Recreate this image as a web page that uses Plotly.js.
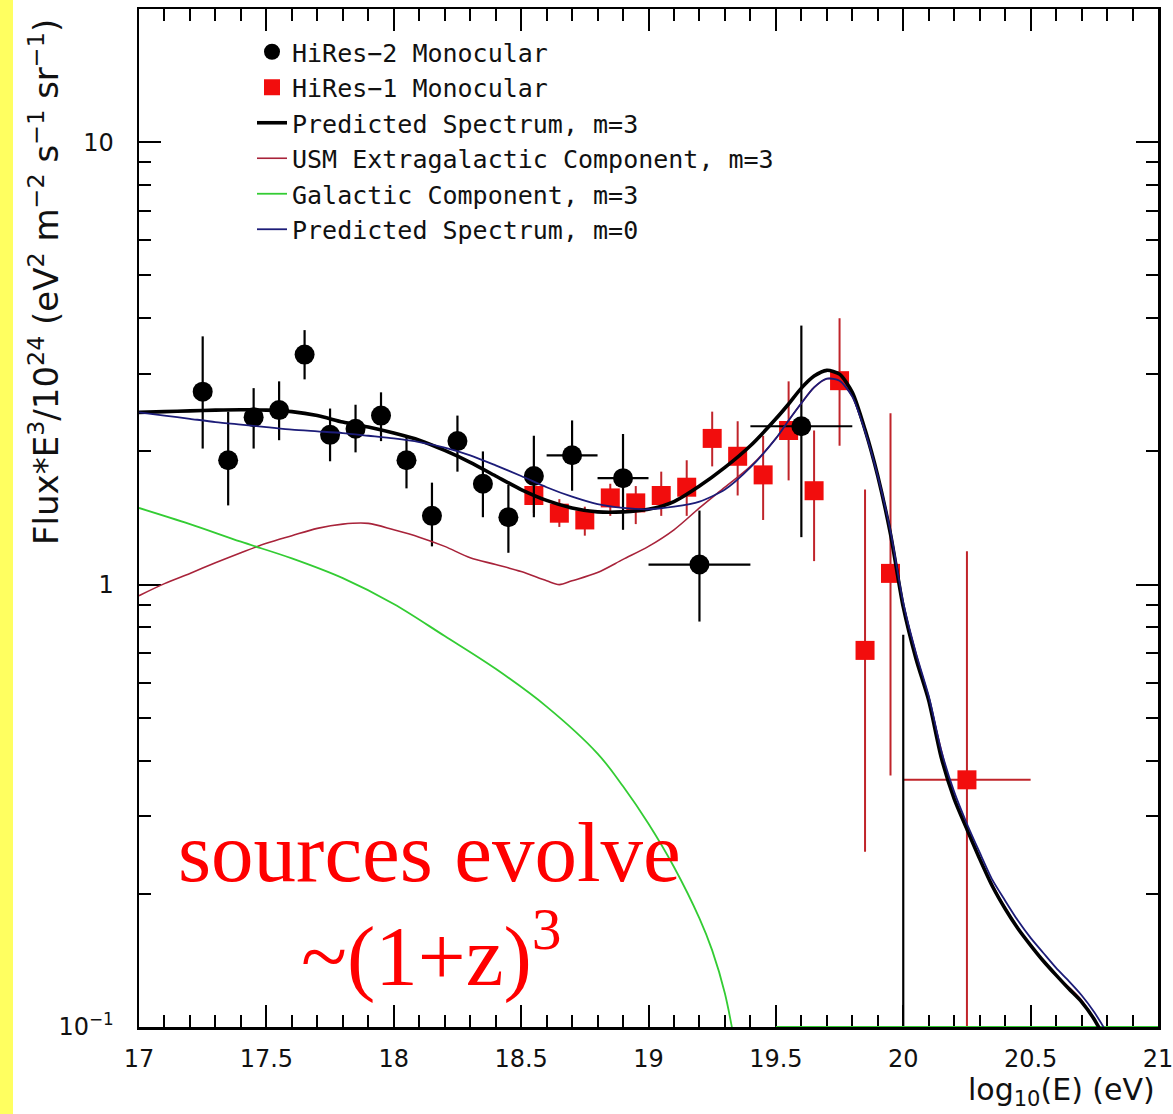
<!DOCTYPE html>
<html>
<head>
<meta charset="utf-8">
<script src="https://cdn.plot.ly/plotly-3.0.1.min.js"></script>
<style>
  html, body { margin: 0; padding: 0; background: #ffffff; }
  #chart { width: 1173px; height: 1114px; }
</style>
</head>
<body>
<div id="chart"></div>
<script>
// HiRes-2 monocular spectrum: log10(E), flux*E^3/1e24, upper/lower error bounds, half bin width
const hires2X  = [17.25, 17.35, 17.45, 17.55, 17.65, 17.75, 17.85, 17.95, 18.05, 18.15, 18.25, 18.35, 18.45, 18.55, 18.7, 18.9, 19.2, 19.6, 20.0];
const hires2Y  = [2.73, 1.91, 2.39, 2.48, 3.31, 2.18, 2.25, 2.41, 1.91, 1.43, 2.11, 1.69, 1.42, 1.76, 1.96, 1.74, 1.11, 2.28, 0.05];
const hires2Hi = [3.64, 2.46, 2.78, 2.88, 3.76, 2.50, 2.55, 2.72, 2.16, 1.70, 2.41, 2.00, 1.68, 2.17, 2.35, 2.19, 1.47, 3.85, 0.77];
const hires2Lo = [2.03, 1.51, 2.03, 2.12, 2.91, 1.90, 1.99, 2.11, 1.65, 1.22, 1.80, 1.42, 1.18, 1.42, 1.63, 1.33, 0.825, 1.28, 0.02];
const hires2Bin = [0, 0, 0, 0, 0, 0, 0, 0, 0, 0, 0, 0, 0, 0, 0.1, 0.1, 0.2, 0.2, 0.2];

// HiRes-1 monocular spectrum
const hires1X  = [18.55, 18.65, 18.75, 18.85, 18.95, 19.05, 19.15, 19.25, 19.35, 19.45, 19.55, 19.65, 19.75, 19.85, 19.95, 20.25];
const hires1Y  = [1.59, 1.45, 1.40, 1.57, 1.53, 1.59, 1.66, 2.14, 1.95, 1.77, 2.23, 1.63, 2.89, 0.71, 1.06, 0.362];
const hires1Hi = [1.74, 1.56, 1.50, 1.69, 1.67, 1.80, 1.91, 2.46, 2.34, 2.17, 2.88, 2.23, 4.00, 1.64, 2.44, 1.19];
const hires1Lo = [1.45, 1.35, 1.29, 1.43, 1.37, 1.43, 1.43, 1.85, 1.59, 1.40, 1.72, 1.13, 2.06, 0.249, 0.37, 0.05];
const hires1Bin = [0, 0, 0, 0, 0, 0, 0, 0, 0, 0, 0, 0, 0, 0, 0, 0.25];

// Model curves
const predM3X = [17.0, 17.1, 17.2, 17.3, 17.4, 17.5, 17.6, 17.7, 17.8, 17.9, 18.0, 18.1, 18.2, 18.3, 18.4, 18.5, 18.6, 18.7, 18.8, 18.9, 19.0, 19.1, 19.2, 19.3, 19.4, 19.5, 19.55, 19.6, 19.65, 19.7, 19.75, 19.8, 19.85, 19.9, 19.95, 20.0, 20.05, 20.1, 20.15, 20.2, 20.25, 20.3, 20.35, 20.4, 20.45, 20.5, 20.55, 20.6, 20.65, 20.7, 20.75, 20.8];
const predM3Y = [2.45, 2.46, 2.47, 2.48, 2.485, 2.48, 2.46, 2.41, 2.33, 2.27, 2.20, 2.12, 2.01, 1.89, 1.76, 1.64, 1.55, 1.49, 1.46, 1.46, 1.48, 1.54, 1.67, 1.84, 2.06, 2.37, 2.56, 2.78, 2.96, 3.05, 2.99, 2.72, 2.24, 1.76, 1.30, 0.89, 0.68, 0.547, 0.405, 0.328, 0.28, 0.24, 0.208, 0.185, 0.167, 0.153, 0.141, 0.131, 0.122, 0.114, 0.104, 0.092];

const predM0X = [17.0, 17.1, 17.2, 17.3, 17.4, 17.5, 17.6, 17.7, 17.8, 17.9, 18.0, 18.1, 18.2, 18.3, 18.4, 18.5, 18.6, 18.7, 18.8, 18.9, 19.0, 19.1, 19.2, 19.3, 19.4, 19.5, 19.55, 19.6, 19.65, 19.7, 19.75, 19.8, 19.85, 19.9, 19.95, 20.0, 20.05, 20.1, 20.15, 20.2, 20.25, 20.3, 20.35, 20.4, 20.45, 20.5, 20.55, 20.6, 20.65, 20.7, 20.75, 20.8];
const predM0Y = [2.45, 2.41, 2.37, 2.33, 2.30, 2.27, 2.24, 2.22, 2.20, 2.17, 2.14, 2.10, 2.04, 1.96, 1.86, 1.76, 1.66, 1.58, 1.52, 1.49, 1.48, 1.50, 1.54, 1.64, 1.84, 2.14, 2.35, 2.57, 2.79, 2.92, 2.89, 2.66, 2.22, 1.76, 1.32, 0.91, 0.70, 0.56, 0.42, 0.34, 0.288, 0.248, 0.215, 0.193, 0.174, 0.159, 0.147, 0.136, 0.127, 0.118, 0.108, 0.097];

const extraX = [17.0, 17.1, 17.2, 17.3, 17.4, 17.5, 17.6, 17.7, 17.8, 17.9, 18.0, 18.1, 18.2, 18.3, 18.4, 18.5, 18.6, 18.65, 18.7, 18.8, 18.9, 19.0, 19.1, 19.2, 19.3, 19.4, 19.5, 19.55, 19.6, 19.65, 19.7, 19.75, 19.8, 19.85, 19.9, 19.95, 20.0, 20.1, 20.2, 20.3, 20.4, 20.5, 20.6, 20.7, 20.8];
const extraY = [0.944, 1.005, 1.06, 1.12, 1.18, 1.24, 1.29, 1.34, 1.37, 1.375, 1.33, 1.28, 1.22, 1.15, 1.11, 1.07, 1.02, 1.0, 1.02, 1.065, 1.14, 1.22, 1.33, 1.49, 1.66, 1.85, 2.14, 2.35, 2.57, 2.79, 2.92, 2.89, 2.66, 2.22, 1.76, 1.31, 0.90, 0.55, 0.33, 0.24, 0.186, 0.153, 0.131, 0.115, 0.092];

const galacticX = [17.0, 17.2, 17.4, 17.6, 17.8, 18.0, 18.2, 18.4, 18.6, 18.8, 18.9, 19.0, 19.1, 19.2, 19.25, 19.3, 19.35, 19.4, 19.45, 19.5, 21.0];
const galacticY = [1.49, 1.37, 1.25, 1.146, 1.034, 0.904, 0.765, 0.645, 0.53, 0.415, 0.35, 0.288, 0.23, 0.176, 0.149, 0.119, 0.085, 0.06, null, 0.1, 0.1];

// Axis tick labels
const xTickVals = [17, 17.5, 18, 18.5, 19, 19.5, 20, 20.5, 21];
const xTickText = ['17', '17.5', '18', '18.5', '19', '19.5', '20', '20.5', '21'];
const yTickVals = [0.1, 1, 10];
const yTickText = ['10<sup>\u22121</sup>', '1', '10'];
const yMinorVals = [0.2, 0.3, 0.4, 0.5, 0.6, 0.7, 0.8, 0.9, 2, 3, 4, 5, 6, 7, 8, 9, 20];

const sub = (a, b) => a.map((v, i) => v - b[i]);

const FONT = 'DejaVu Sans, Liberation Sans, sans-serif';
const LEGEND_FONT = 'DejaVu Sans Mono, DejaVu Sans, monospace';

const traces = [
  {
    name: 'HiRes\u22121 Monocular', legendrank: 2,
    x: hires1X, y: hires1Y, type: 'scatter', mode: 'markers',
    marker: { symbol: 'square', size: 19, color: '#f20d0d' },
    error_y: { type: 'data', symmetric: false, array: sub(hires1Hi, hires1Y), arrayminus: sub(hires1Y, hires1Lo), color: '#c0242a', thickness: 2, width: 0 },
    error_x: { type: 'data', array: hires1Bin, color: '#c0242a', thickness: 2, width: 0 }
  },
  {
    name: 'HiRes\u22122 Monocular', legendrank: 1,
    x: hires2X, y: hires2Y, type: 'scatter', mode: 'markers',
    marker: { symbol: 'circle', size: 20, color: '#000000' },
    error_y: { type: 'data', symmetric: false, array: sub(hires2Hi, hires2Y), arrayminus: sub(hires2Y, hires2Lo), color: '#000000', thickness: 2.2, width: 0 },
    error_x: { type: 'data', array: hires2Bin, color: '#000000', thickness: 2.2, width: 0 }
  },
  {
    name: 'USM Extragalactic Component, m=3', legendrank: 4,
    x: extraX, y: extraY, type: 'scatter', mode: 'lines',
    line: { color: '#a8233a', width: 1.6, shape: 'spline', smoothing: 0.9 }
  },
  {
    name: 'Galactic Component, m=3', legendrank: 5,
    x: galacticX, y: galacticY, type: 'scatter', mode: 'lines', connectgaps: false,
    line: { color: '#33cc33', width: 1.8, shape: 'spline', smoothing: 1.0 }
  },
  {
    name: 'Predicted Spectrum, m=3', legendrank: 3,
    x: predM3X, y: predM3Y, type: 'scatter', mode: 'lines',
    line: { color: '#000000', width: 3.6, shape: 'spline', smoothing: 0.7 }
  },
  {
    name: 'Predicted Spectrum, m=0', legendrank: 6,
    x: predM0X, y: predM0Y, type: 'scatter', mode: 'lines',
    line: { color: '#1c1c78', width: 1.8, shape: 'spline', smoothing: 0.7 }
  }
];

const W = 1173, H = 1114, L = 139, R = 15, T = 9, B = 87;
const plotW = W - L - R, plotH = H - T - B;
const px = p => (p - L) / plotW;          // page pixel x -> paper x
const py = p => (H - B - p) / plotH;      // page pixel y -> paper y

const layout = {
  width: W, height: H,
  margin: { l: L, r: R, t: T, b: B, pad: 0 },
  paper_bgcolor: '#ffffff',
  plot_bgcolor: '#ffffff',
  font: { family: FONT, color: '#000000' },
  showlegend: true,
  legend: {
    x: px(252), y: py(29), xanchor: 'left', yanchor: 'top',
    bgcolor: 'rgba(0,0,0,0)', borderwidth: 0,
    font: { family: LEGEND_FONT, size: 25, color: '#111111' },
    itemwidth: 30, tracegroupgap: 0, traceorder: 'normal'
  },
  xaxis: {
    range: [17, 21], tickmode: 'array', tickvals: xTickVals, ticktext: xTickText,
    ticks: 'inside', ticklen: 22, tickwidth: 2, tickcolor: '#000000',
    minor: { dtick: 0.1, tick0: 17, ticks: 'inside', ticklen: 12, tickwidth: 2, tickcolor: '#000000' },
    mirror: 'ticks', showline: true, linewidth: 2.5, linecolor: '#000000',
    showgrid: false, zeroline: false,
    tickfont: { family: FONT, size: 24, color: '#111111' },
    ticklabelstandoff: 9, ticklabeloverflow: 'allow',
    layer: 'below traces'
  },
  yaxis: {
    type: 'log', range: [-1, Math.log10(20)],
    tickmode: 'array', tickvals: yTickVals, ticktext: yTickText,
    ticks: 'inside', ticklen: 22, tickwidth: 2, tickcolor: '#000000',
    minor: { tickmode: 'array', tickvals: yMinorVals, ticks: 'inside', ticklen: 12, tickwidth: 2, tickcolor: '#000000' },
    mirror: 'ticks', showline: true, linewidth: 2.5, linecolor: '#000000',
    showgrid: false, zeroline: false,
    tickfont: { family: FONT, size: 24, color: '#111111' },
    ticklabelstandoff: 18, ticklabeloverflow: 'allow',
    layer: 'below traces'
  },
  shapes: [
    { type: 'rect', xref: 'paper', yref: 'paper', x0: px(0), x1: px(13), y0: -0.2, y1: 1.2,
      fillcolor: '#ffff60', line: { width: 0 }, layer: 'below' }
  ],
  annotations: [
    { xref: 'paper', yref: 'paper', x: px(1157), y: py(1091), xanchor: 'right', yanchor: 'middle',
      text: 'log<sub>10</sub>(E) (eV)', showarrow: false,
      font: { family: FONT, size: 30, color: '#111111' } },
    { xref: 'paper', yref: 'paper', x: px(44), y: py(282), xanchor: 'center', yanchor: 'middle',
      textangle: -90, showarrow: false,
      text: 'Flux*E<sup>3</sup>/10<sup>24</sup> (eV<sup>2</sup> m<sup>\u22122</sup> s<sup>\u22121</sup> sr<sup>\u22121</sup>)',
      font: { family: FONT, size: 34, color: '#111111' } },
    { xref: 'paper', yref: 'paper', x: px(429), y: py(852), xanchor: 'center', yanchor: 'middle',
      text: 'sources evolve', showarrow: false,
      font: { family: 'Liberation Serif, Times New Roman, serif', size: 85, color: '#ff0000' } },
    { xref: 'paper', yref: 'paper', x: px(431), y: py(950), xanchor: 'center', yanchor: 'middle',
      text: '~(1+z)<sup>3</sup>', showarrow: false,
      font: { family: 'Liberation Serif, Times New Roman, serif', size: 85, color: '#ff0000' } }
  ]
};

Plotly.newPlot('chart', traces, layout, { displayModeBar: false, staticPlot: true });
</script>
</body>
</html>
